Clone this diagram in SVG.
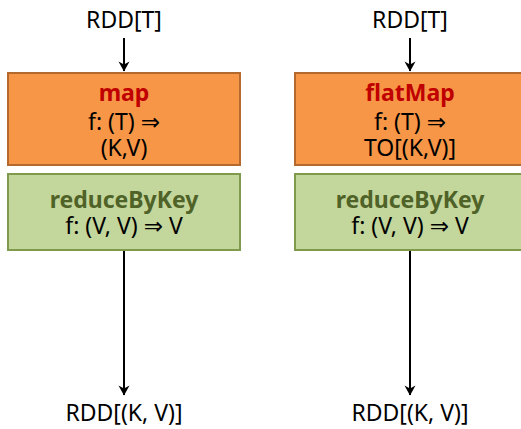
<svg xmlns="http://www.w3.org/2000/svg" width="521" height="429" viewBox="0 0 521 429">
  <style>
    text { font-family: "Noto Sans", "DejaVu Sans", sans-serif; font-size: 23px; text-anchor: middle; fill: #000; }
    .op { fill: #F79646; stroke: #B46A2E; stroke-width: 2; }
    .red { fill: #C3D69B; stroke: #7F9A4C; stroke-width: 2; }
    .opname { font-weight: bold; fill: #C00000; }
    .redname { font-weight: bold; fill: #4F6228; }
    .edge { stroke: #000; stroke-width: 2; fill: none; marker-end: url(#arrow); }
  </style>
  <defs>
    <marker id="arrow" viewBox="0 0 10 12" refX="9.5" refY="6" markerWidth="6" markerHeight="6" orient="auto" markerUnits="strokeWidth">
      <path d="M0,0.5 L10,6 L0,11.5 L3,6 z" fill="#000"/>
    </marker>
  </defs>

  <!-- pipeline inputs / outputs -->
  <g id="input-left"><text x="124" y="28">RDD[T]</text></g>
  <g id="input-right"><text x="410" y="28">RDD[T]</text></g>
  <g id="output-left"><text x="124" y="421">RDD[(K, V)]</text></g>
  <g id="output-right"><text x="410" y="421">RDD[(K, V)]</text></g>

  <!-- left pipeline -->
  <g id="map">
    <rect class="op" x="8" y="73" width="232" height="92"/>
    <text class="opname" x="124" y="101">map</text>
    <text x="124" y="130">f: (T) ⇒</text>
    <text x="124" y="156">(K,V)</text>
  </g>
  <g id="reduce-left">
    <rect class="red" x="8" y="174" width="232" height="76"/>
    <text class="redname" x="124" y="208">reduceByKey</text>
    <text x="124" y="234">f: (V, V) ⇒ V</text>
  </g>

  <!-- right pipeline -->
  <g id="flatmap">
    <rect class="op" x="295" y="73" width="232" height="92"/>
    <text class="opname" x="410" y="101">flatMap</text>
    <text x="410" y="130">f: (T) ⇒</text>
    <text x="410" y="156">TO[(K,V)]</text>
  </g>
  <g id="reduce-right">
    <rect class="red" x="295" y="174" width="232" height="76"/>
    <text class="redname" x="410" y="208">reduceByKey</text>
    <text x="410" y="234">f: (V, V) ⇒ V</text>
  </g>

  <g id="connectors">
    <line class="edge" x1="124" y1="38" x2="124" y2="71"/>
    <line class="edge" x1="410" y1="38" x2="410" y2="71"/>
    <line class="edge" x1="124" y1="251" x2="124" y2="395"/>
    <line class="edge" x1="410" y1="251" x2="410" y2="395"/>
  </g>
</svg>
